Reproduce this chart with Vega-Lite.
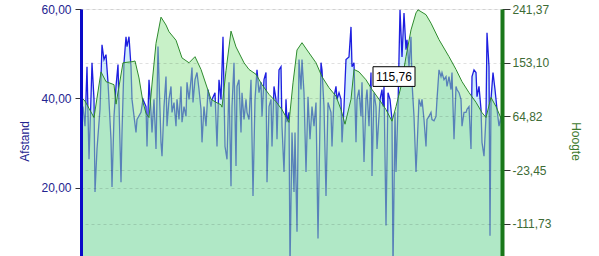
{
  "$schema": "https://vega.github.io/schema/vega-lite/v6.json",
  "width": 421,
  "height": 247,
  "autosize": {"type": "none"},
  "padding": {"left": 81, "top": 9, "right": 97, "bottom": 0},
  "background": "white",
  "config": {
    "view": {"stroke": null},
    "font": "Liberation Sans",
    "axis": {"labelFont": "Liberation Sans", "titleFont": "Liberation Sans", "labelFontSize": 12, "titleFontSize": 12, "titleFontWeight": "normal"}
  },
  "datasets": {
    "afstand": [
      {"i":1,"v":36.5},{"i":2,"v":38.2},{"i":4,"v":33.8},{"i":6,"v":47.1},{"i":8,"v":26.4},{"i":10,"v":40.4},{"i":11,"v":48.0},{"i":13,"v":39.8},{"i":14,"v":19.1},{"i":16,"v":28.7},{"i":19,"v":37.6},{"i":21,"v":52.0},{"i":23,"v":48.7},{"i":25,"v":49.8},{"i":27,"v":43.6},{"i":30,"v":30.9},{"i":31,"v":20.2},{"i":33,"v":36.0},{"i":35,"v":42.7},{"i":37,"v":47.6},{"i":40,"v":21.3},{"i":41,"v":32.4},{"i":43,"v":48.0},{"i":45,"v":53.8},{"i":46,"v":51.6},{"i":48,"v":53.8},{"i":50,"v":47.1},{"i":51,"v":39.8},{"i":55,"v":32.4},{"i":56,"v":35.3},{"i":60,"v":36.9},{"i":62,"v":39.8},{"i":65,"v":38.2},{"i":66,"v":29.3},{"i":68,"v":44.2},{"i":70,"v":36.9},{"i":71,"v":32.4},{"i":73,"v":39.8},{"i":75,"v":28.7},{"i":77,"v":51.6},{"i":80,"v":30.2},{"i":81,"v":27.1},{"i":83,"v":38.2},{"i":85,"v":44.9},{"i":86,"v":33.8},{"i":88,"v":39.8},{"i":90,"v":42.7},{"i":91,"v":36.9},{"i":93,"v":39.1},{"i":95,"v":33.8},{"i":96,"v":39.8},{"i":98,"v":35.3},{"i":100,"v":42.7},{"i":101,"v":34.7},{"i":103,"v":38.2},{"i":105,"v":36.0},{"i":106,"v":43.6},{"i":108,"v":39.8},{"i":110,"v":44.2},{"i":111,"v":46.9},{"i":112,"v":39.1},{"i":114,"v":44.2},{"i":116,"v":45.8},{"i":118,"v":42.0},{"i":120,"v":37.6},{"i":121,"v":30.2},{"i":123,"v":38.2},{"i":125,"v":33.8},{"i":127,"v":42.0},{"i":130,"v":38.2},{"i":131,"v":39.8},{"i":134,"v":41.3},{"i":136,"v":29.3},{"i":138,"v":44.2},{"i":140,"v":39.8},{"i":142,"v":53.8},{"i":144,"v":29.3},{"i":146,"v":26.4},{"i":148,"v":43.6},{"i":150,"v":20.4},{"i":151,"v":38.2},{"i":153,"v":48.0},{"i":155,"v":24.9},{"i":156,"v":42.7},{"i":158,"v":44.2},{"i":160,"v":32.4},{"i":161,"v":41.3},{"i":163,"v":35.3},{"i":165,"v":39.8},{"i":166,"v":36.9},{"i":168,"v":35.3},{"i":170,"v":44.2},{"i":172,"v":18.2},{"i":174,"v":39.8},{"i":176,"v":46.4},{"i":178,"v":41.3},{"i":180,"v":43.6},{"i":181,"v":36.0},{"i":183,"v":44.2},{"i":185,"v":45.8},{"i":186,"v":21.3},{"i":188,"v":38.2},{"i":190,"v":39.8},{"i":191,"v":29.3},{"i":193,"v":42.7},{"i":195,"v":39.8},{"i":196,"v":30.9},{"i":198,"v":46.4},{"i":200,"v":47.1},{"i":201,"v":33.8},{"i":203,"v":23.6},{"i":205,"v":39.8},{"i":206,"v":34.7},{"i":208,"v":36.9},{"i":209,"v":2.0},{"i":211,"v":32.4},{"i":213,"v":19.1},{"i":214,"v":32.4},{"i":216,"v":10.2},{"i":218,"v":48.7},{"i":220,"v":42.0},{"i":221,"v":48.7},{"i":223,"v":41.3},{"i":225,"v":23.6},{"i":227,"v":40.4},{"i":229,"v":30.9},{"i":231,"v":38.2},{"i":233,"v":33.8},{"i":235,"v":39.1},{"i":237,"v":8.7},{"i":240,"v":48.0},{"i":241,"v":46.4},{"i":243,"v":38.2},{"i":245,"v":18.2},{"i":247,"v":39.1},{"i":250,"v":36.9},{"i":251,"v":29.3},{"i":253,"v":40.4},{"i":255,"v":42.7},{"i":256,"v":39.8},{"i":258,"v":41.3},{"i":260,"v":39.8},{"i":261,"v":30.2},{"i":263,"v":38.2},{"i":265,"v":48.7},{"i":268,"v":49.3},{"i":270,"v":56.0},{"i":271,"v":47.1},{"i":273,"v":48.0},{"i":275,"v":30.2},{"i":276,"v":39.8},{"i":278,"v":42.0},{"i":280,"v":36.0},{"i":281,"v":43.6},{"i":283,"v":25.8},{"i":285,"v":39.8},{"i":286,"v":42.0},{"i":288,"v":33.8},{"i":290,"v":45.8},{"i":291,"v":22.7},{"i":293,"v":41.3},{"i":295,"v":38.2},{"i":296,"v":28.7},{"i":299,"v":39.8},{"i":301,"v":42.0},{"i":302,"v":38.2},{"i":303,"v":42.7},{"i":305,"v":11.6},{"i":307,"v":41.3},{"i":309,"v":39.8},{"i":311,"v":35.3},{"i":312,"v":2.0},{"i":314,"v":36.9},{"i":315,"v":23.6},{"i":317,"v":38.2},{"i":319,"v":59.8},{"i":321,"v":49.3},{"i":323,"v":59.1},{"i":325,"v":50.9},{"i":326,"v":53.1},{"i":328,"v":47.1},{"i":330,"v":53.8},{"i":331,"v":43.6},{"i":333,"v":36.0},{"i":335,"v":23.6},{"i":336,"v":28.7},{"i":338,"v":39.8},{"i":340,"v":38.2},{"i":341,"v":39.8},{"i":343,"v":35.3},{"i":345,"v":29.3},{"i":346,"v":35.3},{"i":348,"v":36.0},{"i":350,"v":36.9},{"i":351,"v":35.3},{"i":353,"v":35.0},{"i":355,"v":36.0},{"i":356,"v":39.8},{"i":358,"v":46.4},{"i":360,"v":44.9},{"i":361,"v":45.8},{"i":363,"v":44.2},{"i":365,"v":44.9},{"i":366,"v":42.7},{"i":368,"v":44.9},{"i":370,"v":42.0},{"i":371,"v":45.8},{"i":373,"v":30.9},{"i":375,"v":42.7},{"i":376,"v":42.0},{"i":378,"v":41.3},{"i":380,"v":39.8},{"i":381,"v":33.8},{"i":383,"v":36.9},{"i":385,"v":36.9},{"i":386,"v":37.6},{"i":388,"v":38.2},{"i":390,"v":28.7},{"i":391,"v":44.9},{"i":393,"v":46.4},{"i":395,"v":45.8},{"i":396,"v":40.4},{"i":398,"v":42.7},{"i":400,"v":37.6},{"i":401,"v":30.2},{"i":403,"v":27.1},{"i":405,"v":36.0},{"i":406,"v":54.7},{"i":408,"v":47.1},{"i":409,"v":9.3},{"i":410,"v":39.8},{"i":412,"v":45.8},{"i":414,"v":42.0},{"i":416,"v":37.6},{"i":418,"v":33.8},{"i":420,"v":36.0},{"i":421,"v":29.3}
    ],
    "hoogte": [
      {"i":1,"h":95},{"i":4,"h":90},{"i":8,"h":78},{"i":13,"h":63},{"i":20,"h":138},{"i":25,"h":122},{"i":33,"h":117},{"i":35,"h":85},{"i":42,"h":153},{"i":52,"h":155},{"i":54,"h":156},{"i":58,"h":128},{"i":62,"h":88},{"i":65,"h":70},{"i":68,"h":63},{"i":71,"h":118},{"i":75,"h":185},{"i":80,"h":228},{"i":85,"h":215},{"i":88,"h":204},{"i":95,"h":190},{"i":101,"h":161},{"i":108,"h":153},{"i":114,"h":163},{"i":120,"h":142},{"i":130,"h":93},{"i":135,"h":88},{"i":140,"h":84},{"i":141,"h":80},{"i":145,"h":140},{"i":150,"h":205},{"i":155,"h":179},{"i":163,"h":153},{"i":168,"h":142},{"i":175,"h":134},{"i":181,"h":117},{"i":188,"h":101},{"i":195,"h":89},{"i":201,"h":76},{"i":208,"h":55},{"i":212,"h":120},{"i":216,"h":174},{"i":221,"h":186},{"i":226,"h":174},{"i":235,"h":153},{"i":241,"h":130},{"i":248,"h":112},{"i":255,"h":98},{"i":260,"h":76},{"i":264,"h":52},{"i":270,"h":93},{"i":273,"h":142},{"i":278,"h":138},{"i":285,"h":125},{"i":291,"h":109},{"i":298,"h":93},{"i":305,"h":76},{"i":311,"h":57},{"i":315,"h":81},{"i":320,"h":114},{"i":325,"h":163},{"i":330,"h":207},{"i":335,"h":235},{"i":337,"h":240},{"i":345,"h":232},{"i":350,"h":218},{"i":358,"h":191},{"i":368,"h":163},{"i":375,"h":142},{"i":381,"h":122},{"i":388,"h":104},{"i":395,"h":88},{"i":401,"h":71},{"i":405,"h":63},{"i":410,"h":96},{"i":415,"h":81},{"i":421,"h":58}
    ],
    "tip": [{"i1":292,"i2":334,"i":313,"a1":42.7,"a2":47.1,"a":44.9,"label":"115,76"}]
  },
  "layer": [
    {
      "data": {"name": "afstand"},
      "mark": {"type": "area", "clip": true, "color": "#bae4f8", "line": {"color": "#1e1ee0", "strokeWidth": 1.3}},
      "encoding": {
        "x": {"field": "i", "type": "quantitative", "scale": {"domain": [0, 421], "nice": false, "zero": false}, "axis": null},
        "y": {"field": "v", "type": "quantitative", "scale": {"domain": [4.8, 60], "nice": false, "zero": false},
          "axis": {"orient": "left", "values": [20, 40, 60], "labelExpr": "replace(format(datum.value, '.2f'), '.', ',')",
            "title": "Afstand", "titleColor": "#23238f", "labelColor": "#23238f", "domainColor": "#0a0ac8", "domainWidth": 3,
            "tickColor": "#333333", "tickSize": 6, "labelPadding": 4, "titlePadding": 9, "titleY": 132,
            "grid": true, "gridColor": "#000000", "gridOpacity": 0.12, "gridDash": [3, 3], "zindex": 1}},
        "y2": {"datum": 0}
      }
    },
    {
      "data": {"name": "hoogte"},
      "mark": {"type": "area", "clip": true, "color": "#91e391", "opacity": 0.5, "line": {"color": "#2e8b2e", "strokeWidth": 1, "opacity": 1}},
      "encoding": {
        "x": {"field": "i", "type": "quantitative", "scale": {"domain": [0, 421], "nice": false, "zero": false}, "axis": null},
        "y": {"field": "h", "type": "quantitative", "scale": {"domain": [-164.6, 241.37], "nice": false, "zero": false},
          "axis": {"orient": "right", "values": [-111.73, -23.45, 64.82, 153.1, 241.37],
            "labelExpr": "replace(replace(format(datum.value, '.2f'), '.', ','), '\u2212', '-')",
            "title": "Hoogte", "titleColor": "#3d7a2e", "labelColor": "#3d6b35", "domainColor": "#1a781a", "domainWidth": 4,
            "tickColor": "#333333", "tickSize": 8, "labelPadding": 2, "titlePadding": 18, "titleY": 132,
            "grid": true, "gridColor": "#000000", "gridOpacity": 0.12, "gridDash": [3, 3], "zindex": 1}},
        "y2": {"datum": -300}
      }
    },
    {
      "data": {"name": "tip"},
      "mark": {"type": "rect", "fill": "white", "stroke": "black", "strokeWidth": 1},
      "encoding": {
        "x": {"field": "i1", "type": "quantitative", "scale": {"domain": [0, 421], "nice": false, "zero": false}, "axis": null},
        "x2": {"field": "i2"},
        "y": {"field": "a1", "type": "quantitative", "scale": {"domain": [4.8, 60], "nice": false, "zero": false}, "axis": null},
        "y2": {"field": "a2"}
      }
    },
    {
      "data": {"name": "tip"},
      "mark": {"type": "text", "fontSize": 12, "color": "black", "align": "center", "baseline": "middle"},
      "encoding": {
        "x": {"field": "i", "type": "quantitative", "scale": {"domain": [0, 421], "nice": false, "zero": false}, "axis": null},
        "y": {"field": "a", "type": "quantitative", "scale": {"domain": [4.8, 60], "nice": false, "zero": false}, "axis": null},
        "text": {"field": "label"}
      }
    }
  ],
  "resolve": {"scale": {"y": "independent"}, "axis": {"y": "independent"}}
}
